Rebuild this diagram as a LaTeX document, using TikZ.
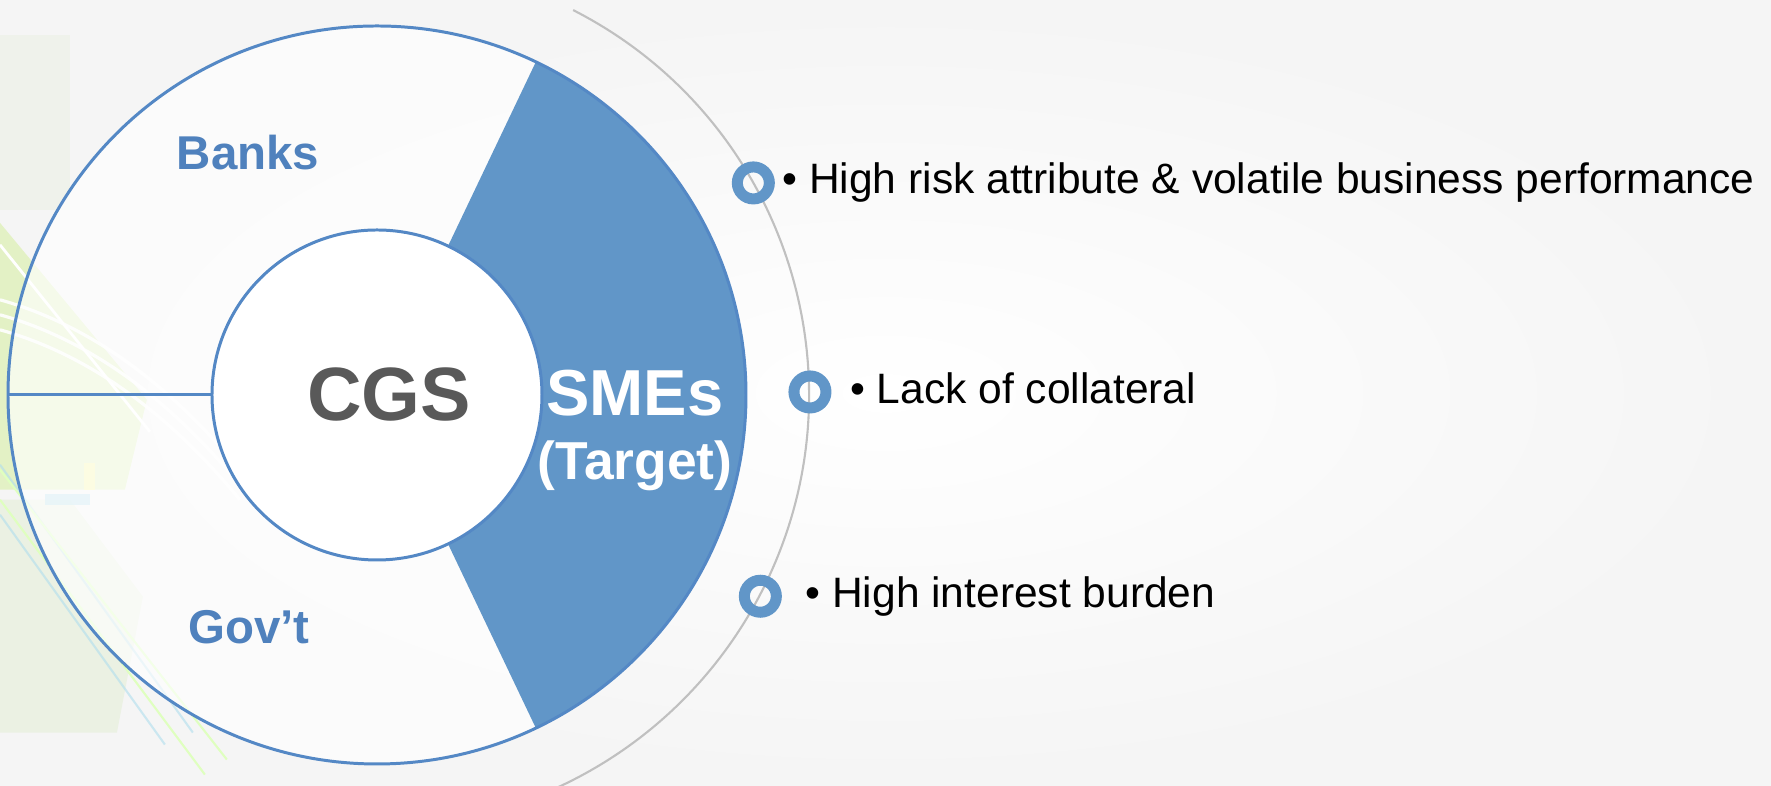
\documentclass[tikz,border=0pt]{standalone}
\usepackage{fontspec}
\setmainfont{Liberation Sans}
\usetikzlibrary{positioning}

\definecolor{smeblue}{RGB}{97,150,200}
\definecolor{rimblue}{RGB}{84,136,197}
\definecolor{labelblue}{RGB}{79,129,189}
\definecolor{hubgray}{RGB}{89,89,89}
\definecolor{arcgray}{RGB}{192,192,192}
\definecolor{leafgreen}{RGB}{226,241,192}
\definecolor{mistgreen}{RGB}{234,241,226}
\definecolor{paleblue}{RGB}{176,222,238}

\begin{document}
\begin{tikzpicture}[
    rim/.style={draw=rimblue, line width=0.85pt},
    sector/.style={font=\bfseries\fontsize{13.5}{16}\selectfont, text=labelblue, anchor=base},
    target/.style={font=\bfseries\fontsize{18.5}{22}\selectfont, text=white, anchor=base},
    marker/.style={circle, draw=smeblue, line width=0.11cm, minimum size=0.32cm, inner sep=0pt},
    item/.style={font=\fontsize{12.1}{14}\selectfont, inner sep=0pt, text height=8.8pt, text depth=2.5pt}]
  % page
  \useasboundingbox (-3.77,-3.91) rectangle (13.94,3.95);
  \clip (-3.77,-3.91) rectangle (13.94,3.95);
  \shade[inner color=white, outer color=black!4] (-3.77,-3.91) rectangle (13.94,3.95);

  % leaves and streaks on the left edge (pixel units from the top left corner)
  \begin{scope}[shift={(-3.77cm,3.95cm)}, x=0.01cm, y=-0.01cm]
    \fill[mistgreen, opacity=.5] (0,35) rectangle (70,210);
    \fill[mistgreen, opacity=.9] (0,500) -- (70,500) -- (143,597) -- (117,733) -- (0,733) -- cycle;
    \fill[leafgreen, opacity=.9] (0,223) -- (147,400) -- (125,490) -- (0,490) -- cycle;
    \fill[paleblue, opacity=.7] (45,494) rectangle (90,505);
    \fill[yellow!35, opacity=.8] (84,463) rectangle (95,490);
    \draw[white, line width=0.8pt] (0,245) -- (150,432);
    \foreach \y in {300,315,330} {
      \draw[white, line width=0.9pt, opacity=.9] (0,\y) .. controls (90,\y+25) and (170,\y+85) .. (240,\y+170);
    }
    \draw[paleblue, line width=0.6pt, opacity=.6] (0,465) -- (193,733);
    \draw[paleblue, line width=0.6pt, opacity=.6] (0,515) -- (165,745);
    \draw[green!50!yellow!25, line width=0.6pt] (0,470) -- (227,760);
    \draw[green!50!yellow!25, line width=0.6pt] (0,500) -- (205,775);
  \end{scope}

  % rings
  \fill[white, fill opacity=.65] (0,0) circle (3.69);
  \fill[smeblue] (-64.5:1.65) -- (-64.5:3.69) arc (-64.5:64.5:3.69) -- (64.5:1.65) arc (64.5:-64.5:1.65) -- cycle;
  \draw[rim] (0,0) circle (3.69);
  \node[circle, rim, fill=white, minimum size=3.30cm, inner sep=0pt] (hub) at (0,0) {};
  \draw[rim] (hub.west) -- (180:3.69);

  \node[font=\bfseries\fontsize{21.5}{24}\selectfont, text=hubgray] (cgs) at (0.12,0) {CGS};
  \node[sector] (banks) at (-1.29,2.25) {Banks};
  \node[sector] (govt) at (-1.28,-2.49) {Gov’t};
  \node[target] (smes) at (2.58,-0.21) {SMEs};
  \node[target, font=\bfseries\fontsize{15.2}{18}\selectfont] (aim) at (2.58,-0.85) {(Target)};

  % outer guide arc with the three markers
  \draw[arcgray, line width=0.6pt] (63:4.32) arc (63:-70:4.32);
  \node[marker] (m1) at (29.4:4.32) {};
  \node[marker] (m2) at (0.4:4.33) {};
  \node[marker] (m3) at (-27.7:4.33) {};

  \node[item, right=0.07 of m1] (risk) {\textbullet\ High risk attribute \& volatile business performance};
  \node[item, right=0.18 of m2] (collateral) {\textbullet\ Lack of collateral};
  \node[item, right=0.23 of m3] (interest) {\textbullet\ High interest burden};
\end{tikzpicture}
\end{document}
